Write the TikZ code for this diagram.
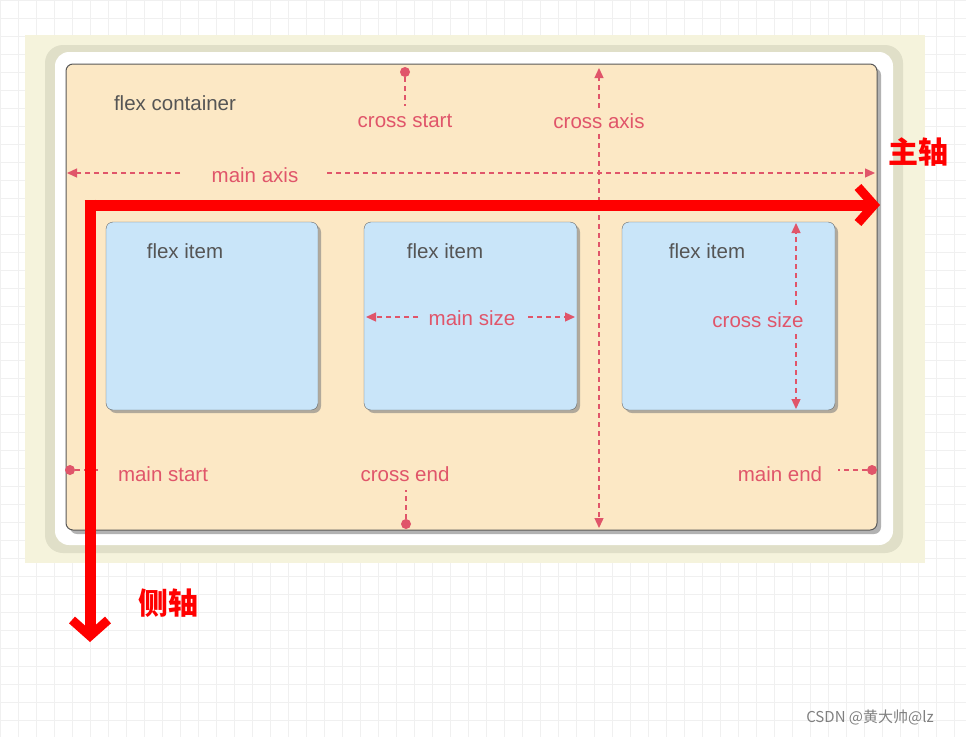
\documentclass[tikz,border=0pt]{standalone}
\usepackage{fontspec}
\setmainfont{Liberation Sans}
\newfontfamily\cjk{Noto Sans CJK SC}
\usetikzlibrary{arrows.meta,shadows}
\definecolor{pk}{HTML}{E0556A}
\definecolor{gtx}{HTML}{555555}
\definecolor{itemc}{RGB}{201,229,249}
\definecolor{contc}{RGB}{252,232,197}
\begin{document}
\begin{tikzpicture}[x=1pt,y=-1pt,
  lab/.style={text=pk,font=\fontsize{20.5}{20.5}\selectfont,inner sep=0},
  dk/.style={text=gtx,font=\fontsize{20.5}{20.5}\selectfont,inner sep=0},
  dsh/.style={draw=pk,line width=1.3pt,dash pattern=on 5pt off 4pt},
  tip/.style={-{Triangle[length=10pt,width=9pt]}},
  dot/.style={circle,fill=pk,inner sep=0,minimum size=10pt},
  item/.style={draw=gray!80!black,fill=itemc,rounded corners=7pt,drop shadow={opacity=0.6,shadow xshift=3pt,shadow yshift=-3pt}},
  raxis/.style={draw=red,line width=11pt,-{Straight Barb[length=16pt,width=36pt,line width=9pt]}},
  cjkl/.style={text=red,font=\cjk\bfseries\fontsize{30}{30}\selectfont,inner sep=0}]
\useasboundingbox (0,0) rectangle (966,737);
\fill[white] (0,0) rectangle (966,737);
\foreach \i in {0,18,...,966} \draw[gray!12] (\i,0) -- (\i,737);
\foreach \j in {0,18,...,737} \draw[gray!12] (0,\j) -- (966,\j);
\fill[fill={rgb,255:red,245;green,243;blue,220}] (25,35) rectangle (925,563);
\fill[fill={rgb,255:red,224;green,223;blue,200},rounded corners=18pt] (45,45) rectangle (903,553);
\fill[white,rounded corners=14pt] (55,52) rectangle (893,545);
\draw[draw=gray!70!black,line width=1pt,fill=contc,rounded corners=7pt,drop shadow={opacity=0.6,shadow xshift=4pt,shadow yshift=-4pt}] (66,64) rectangle (877,530);
\node[item,minimum width=212pt,minimum height=188pt] (i1) at (212,316) {};
\node[item,minimum width=213pt,minimum height=188pt] (i2) at (470.5,316) {};
\node[item,minimum width=213pt,minimum height=188pt] (i3) at (728.5,316) {};
\node[dk] (fc) at (175,103) {flex container};
\node[dk] (t1) at (185,251) {flex item};
\node[dk] (t2) at (445,251) {flex item};
\node[dk] (t3) at (707,251) {flex item};
\node[lab] (cs) at (405,121) {cross start};
\node[lab] (ca) at (599,121) {cross axis};
\node[lab] (ma) at (255,175) {main axis};
\node[lab] (ms) at (472,318) {main size};
\node[lab] (csz) at (758,320) {cross size};
\node[lab] (mst) at (163,474) {main start};
\node[lab] (ce) at (405,474) {cross end};
\node[lab] (me) at (780,474) {main end};
% dashed markers
\node[dot] (d1) at (405,72) {};
\draw[dsh] (d1) -- (405,106);
\node[dot] (d2) at (406,524) {};
\draw[dsh] (d2) -- (406,490);
\node[dot] (d3) at (70,470) {};
\draw[dsh] (d3) -- (102,470);
\node[dot] (d4) at (872,470) {};
\draw[dsh] (d4) -- (838,470);
\coordinate (cat) at (599,68); \coordinate (cab) at (599,528);
\draw[dsh,tip] (599,108) -- (cat);
\draw[dsh,tip] (599,134) -- (cab);
\coordinate (mal) at (67,173); \coordinate (mar) at (875,173);
\draw[dsh,tip] (180,173) -- (mal);
\draw[dsh,tip] (327,173) -- (mar);
\draw[dsh,tip] (418,317) -- (366,317);
\draw[dsh,tip] (528,317) -- (575,317);
\draw[dsh,tip] (796,305) -- (796,223);
\draw[dsh,tip] (796,334) -- (796,409);
% red axes
\coordinate (o) at (84.5,205);
\coordinate (xe) at (880,205);
\coordinate (ye) at (90,642);
\draw[raxis] (o) -- (xe);
\draw[raxis] (90,199.5) -- (ye);
\node[cjkl] (zz) at (918,152) {主轴};
\node[cjkl] (cz) at (168,603) {侧轴};
\node[text=gray,font=\cjk\fontsize{15}{15}\selectfont,inner sep=0] (wm) at (870,717) {CSDN @黄大帅@lz};
\end{tikzpicture}
\end{document}
